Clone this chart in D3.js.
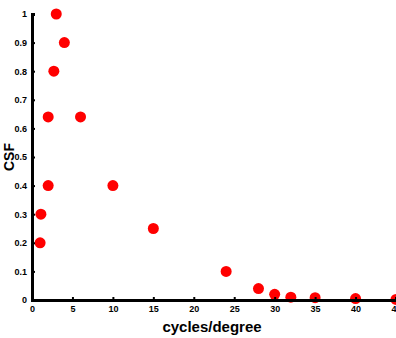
<!DOCTYPE html>
<html>
<head>
<meta charset="utf-8">
<script src="https://cdn.jsdelivr.net/npm/d3@7"></script>
<style>
  body { margin: 0; background: #fff; }
  .axis text { font-family: "Liberation Sans", Arial, sans-serif; font-weight: bold; font-size: 9px; fill: #000; }
  .label { font-family: "Liberation Sans", Arial, sans-serif; font-weight: bold; }
</style>
</head>
<body>
<div id="chart"></div>
<script>
const freq = [1, 1.1, 2, 2, 2.7, 3, 4, 6, 10, 15, 24, 28, 30, 32, 35, 40, 45];
const csf = [0.2, 0.3, 0.4, 0.64, 0.8, 1.0, 0.9, 0.64, 0.4, 0.25, 0.1, 0.04, 0.02, 0.01, 0.008, 0.005, 0.002];
const xTicks = [0, 5, 10, 15, 20, 25, 30, 35, 40, 45];
const yTicks = [0, 0.1, 0.2, 0.3, 0.4, 0.5, 0.6, 0.7, 0.8, 0.9, 1];

const W = 396, H = 338;
const margin = { top: 14, right: 0, bottom: 38, left: 32 };

const svg = d3.select("#chart").append("svg")
    .attr("width", W)
    .attr("height", H);

const x = d3.scaleLinear().domain([0, 45]).range([margin.left, W - margin.right]);
const y = d3.scaleLinear().domain([0, 1]).range([H - margin.bottom, margin.top]);

// points first so the axes sit on top
svg.append("g").selectAll("circle")
    .data(freq.map((f, i) => ({ f, c: csf[i] })))
    .enter().append("circle")
    .attr("cx", d => x(d.f))
    .attr("cy", d => y(d.c))
    .attr("r", 5.5)
    .style("fill", "#ff0000");

const xAxis = svg.append("g")
    .attr("class", "axis")
    .attr("transform", "translate(0," + y(0) + ")")
    .call(d3.axisBottom(x).tickValues(xTicks).tickSize(-3).tickPadding(6).tickFormat(d3.format("d")));

const yAxis = svg.append("g")
    .attr("class", "axis")
    .attr("transform", "translate(" + x(0) + ",0)")
    .call(d3.axisLeft(y).tickValues(yTicks).tickSize(-3).tickPadding(5).tickFormat(d => d === 0 || d === 1 ? d : d3.format(".1f")(d)));

[xAxis, yAxis].forEach(a => {
    a.select(".domain").attr("stroke", "#000").attr("stroke-width", 3);
    a.selectAll(".tick line").attr("stroke", "#000").attr("stroke-width", 2);
});

svg.append("text")
    .attr("class", "label")
    .attr("x", (x(0) + W) / 2 - 2)
    .attr("y", 332)
    .attr("text-anchor", "middle")
    .style("font-size", "15px")
    .text("cycles/degree");

svg.append("text")
    .attr("class", "label")
    .attr("transform", "translate(14," + 157 + ") rotate(-90)")
    .attr("text-anchor", "middle")
    .style("font-size", "14px")
    .text("CSF");
</script>
</body>
</html>
